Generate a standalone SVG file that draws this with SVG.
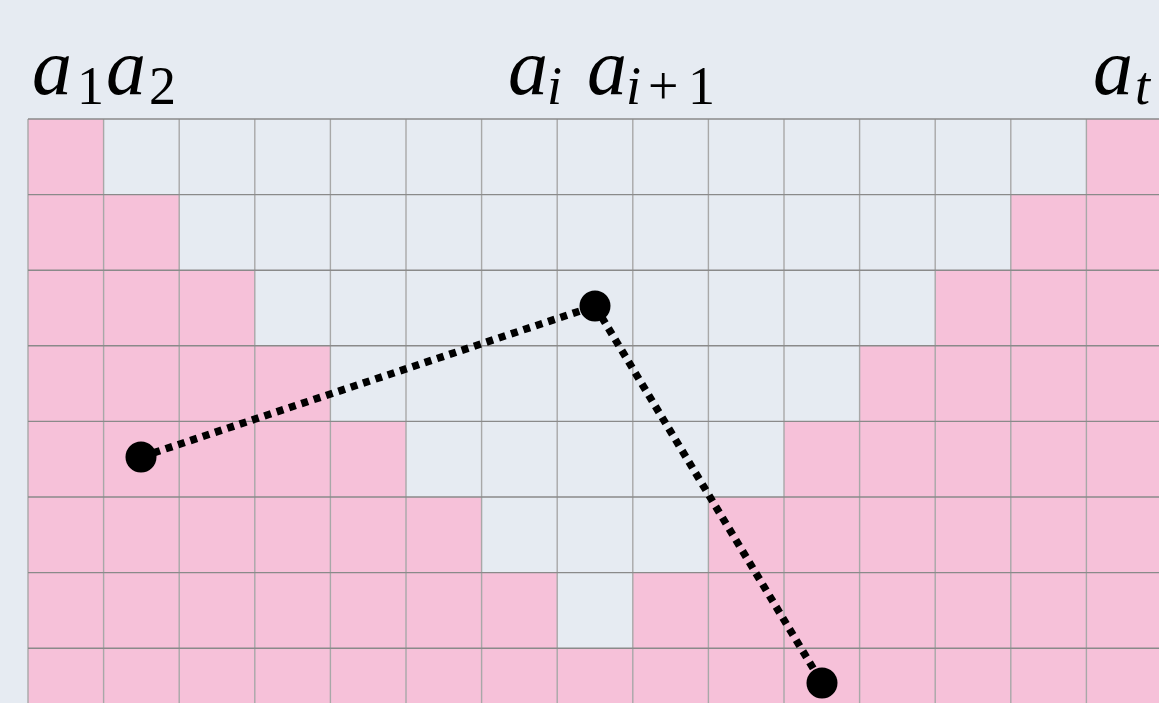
<svg xmlns="http://www.w3.org/2000/svg" width="1159" height="703" viewBox="0 0 1159 703">
<style>
.pink{fill:#f6c1d9}
.gv{stroke:#a8a8a8;stroke-width:1.4}
.gh{stroke:#8a8a8a;stroke-width:1.4}
.lbl{font-family:"Liberation Serif","DejaVu Serif",serif;font-style:italic;font-size:80px;fill:#000}
.sub{font-family:"Liberation Serif","DejaVu Serif",serif;font-size:54px;fill:#000}
.subi{font-family:"Liberation Serif","DejaVu Serif",serif;font-style:italic;font-size:54px;fill:#000}
.conn{stroke:#000;stroke-width:7.5;stroke-dasharray:7 6;fill:none}
</style>
<rect width="1159" height="703" fill="#e6ebf2"/>
<g id="cells">
<rect class="pink" x="28" y="119" width="75.6" height="75.6"/>
<rect class="pink" x="1086.4" y="119" width="80" height="75.6"/>
<rect class="pink" x="28" y="194.6" width="151.2" height="75.6"/>
<rect class="pink" x="1010.8" y="194.6" width="160" height="75.6"/>
<rect class="pink" x="28" y="270.2" width="226.8" height="75.6"/>
<rect class="pink" x="935.2" y="270.2" width="230" height="75.6"/>
<rect class="pink" x="28" y="345.8" width="302.4" height="75.6"/>
<rect class="pink" x="859.6" y="345.8" width="300" height="75.6"/>
<rect class="pink" x="28" y="421.4" width="378" height="75.6"/>
<rect class="pink" x="784" y="421.4" width="380" height="75.6"/>
<rect class="pink" x="28" y="497" width="453.6" height="75.6"/>
<rect class="pink" x="708.4" y="497" width="460" height="75.6"/>
<rect class="pink" x="28" y="572.6" width="529.2" height="75.6"/>
<rect class="pink" x="632.8" y="572.6" width="530" height="75.6"/>
<rect class="pink" x="28" y="648.2" width="1135" height="60"/>
</g>
<g id="grid">
<line class="gv" x1="28" y1="119" x2="28" y2="703"/>
<line class="gv" x1="103.6" y1="119" x2="103.6" y2="703"/>
<line class="gv" x1="179.2" y1="119" x2="179.2" y2="703"/>
<line class="gv" x1="254.8" y1="119" x2="254.8" y2="703"/>
<line class="gv" x1="330.4" y1="119" x2="330.4" y2="703"/>
<line class="gv" x1="406" y1="119" x2="406" y2="703"/>
<line class="gv" x1="481.6" y1="119" x2="481.6" y2="703"/>
<line class="gv" x1="557.2" y1="119" x2="557.2" y2="703"/>
<line class="gv" x1="632.8" y1="119" x2="632.8" y2="703"/>
<line class="gv" x1="708.4" y1="119" x2="708.4" y2="703"/>
<line class="gv" x1="784" y1="119" x2="784" y2="703"/>
<line class="gv" x1="859.6" y1="119" x2="859.6" y2="703"/>
<line class="gv" x1="935.2" y1="119" x2="935.2" y2="703"/>
<line class="gv" x1="1010.8" y1="119" x2="1010.8" y2="703"/>
<line class="gv" x1="1086.4" y1="119" x2="1086.4" y2="703"/>
<line class="gh" x1="28" y1="119" x2="1159" y2="119"/>
<line class="gh" x1="28" y1="194.6" x2="1159" y2="194.6"/>
<line class="gh" x1="28" y1="270.2" x2="1159" y2="270.2"/>
<line class="gh" x1="28" y1="345.8" x2="1159" y2="345.8"/>
<line class="gh" x1="28" y1="421.4" x2="1159" y2="421.4"/>
<line class="gh" x1="28" y1="497" x2="1159" y2="497"/>
<line class="gh" x1="28" y1="572.6" x2="1159" y2="572.6"/>
<line class="gh" x1="28" y1="648.2" x2="1159" y2="648.2"/>
</g>
<g id="labels">
<text class="lbl" x="32" y="94">a</text><text class="sub" x="77" y="104">1</text>
<text class="lbl" x="106" y="94">a</text><text class="sub" x="149" y="104">2</text>
<text class="lbl" x="508" y="94">a</text><text class="subi" x="547" y="104">i</text>
<text class="lbl" x="587" y="94">a</text><text class="subi" x="626" y="104">i</text><text class="sub" x="648" y="104">+</text><text class="sub" x="688" y="104">1</text>
<text class="lbl" x="1093" y="94">a</text><text class="subi" x="1135" y="104">t</text>
</g>
<g id="connectors">
<line class="conn" x1="141" y1="457" x2="595" y2="306"/>
<line class="conn" x1="595" y1="306" x2="822" y2="683"/>
</g>
<g id="p1"><circle cx="141" cy="457" r="15.5" fill="#000"/></g>
<g id="p2"><circle cx="595" cy="306" r="15.5" fill="#000"/></g>
<g id="p3"><circle cx="822" cy="683" r="15.5" fill="#000"/></g>
</svg>
